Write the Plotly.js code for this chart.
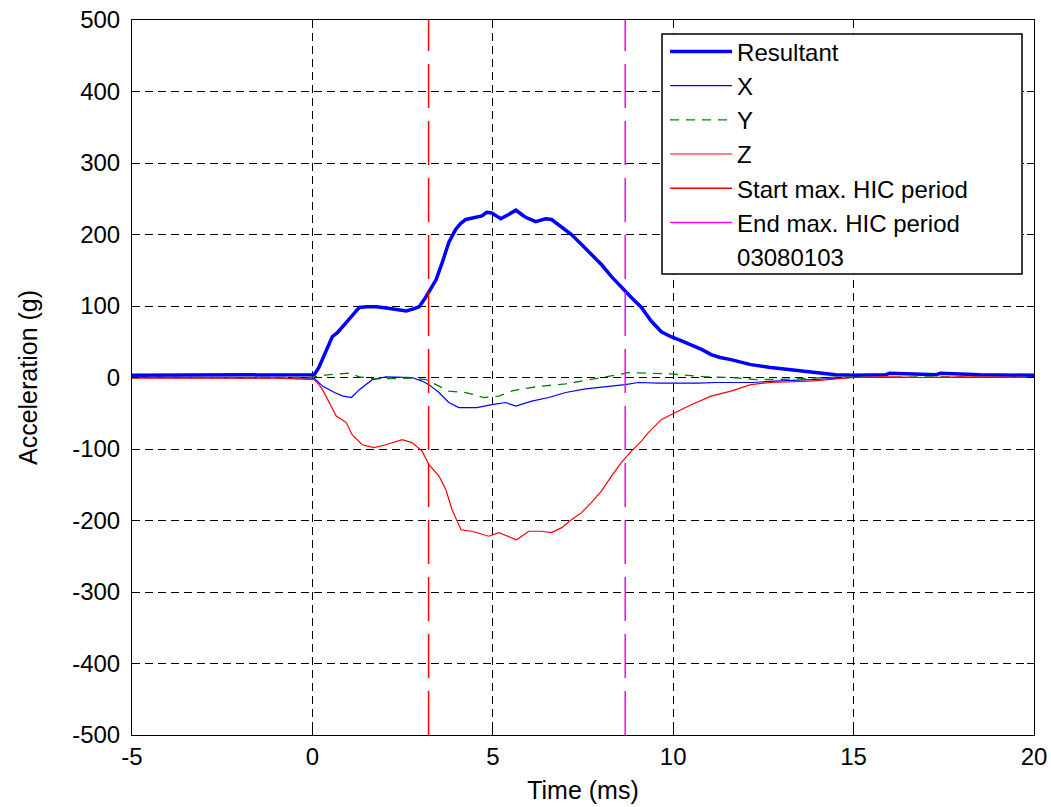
<!DOCTYPE html>
<html>
<head>
<meta charset="utf-8">
<script src="https://cdn.plot.ly/plotly-3.0.1.min.js"></script>
<style>html,body{margin:0;padding:0;background:#fff;}#chart{width:1051px;height:807px;}</style>
</head>
<body>
<div id="chart"></div>
<script>
// ---- data ----
const resT = [-5, -4, -3, -2, -1, -0.2, 0.05, 0.18, 0.28, 0.42, 0.55, 0.7, 0.83, 0.95, 1.08, 1.2, 1.3, 1.5, 1.77, 2.1, 2.4, 2.6, 2.8, 2.96, 3.15, 3.3, 3.43, 3.6, 3.78, 3.97, 4.1, 4.25, 4.53, 4.7, 4.83, 4.97, 5.1, 5.22, 5.44, 5.64, 5.8, 5.91, 6.19, 6.46, 6.63, 6.91, 7.18, 7.46, 7.73, 8.01, 8.29, 8.56, 8.84, 9.12, 9.39, 9.67, 9.94, 10.2, 10.5, 10.8, 11.05, 11.3, 11.6, 12.15, 12.7, 13.45, 14.0, 14.5, 15.0, 15.9, 16.0, 17.3, 17.4, 18.5, 20];
const resV = [3, 3, 3, 3, 3, 3, 4, 14, 25, 42, 57, 63, 71, 78, 85, 92, 98, 99, 99, 97, 95, 93, 96, 99, 113, 125, 137, 161, 189, 207, 215, 221, 224, 226, 231, 230, 226, 222, 228, 234, 228, 224, 218, 222, 221, 211, 200, 186, 172, 158, 141, 126, 112, 98, 79, 64, 57, 52, 46, 39, 32, 28, 25, 18, 14, 10, 7, 4, 3, 4, 6, 4, 6, 4, 3];

const xT = [-5, -0.1, 0.05, 0.28, 0.61, 0.85, 1.08, 1.3, 1.66, 2.04, 2.49, 2.76, 3.04, 3.23, 3.51, 3.78, 4.06, 4.56, 4.97, 5.36, 5.64, 6.08, 6.55, 7.02, 7.57, 8.01, 8.67, 9.03, 9.59, 10.7, 11.2, 12.2, 12.8, 13.8, 14.5, 15, 20];
const xV = [0, 0, -1, -12, -21, -26, -28, -17, -3, 1, 1, 0, -5, -10, -21, -35, -42, -42, -38, -35, -40, -33, -28, -21, -16, -14, -10, -7, -8, -8, -7, -7, -5, -3, -1, 0, 0];

const yT = [-5, -0.1, 0.2, 0.47, 1.02, 1.3, 1.77, 2.3, 2.76, 3.15, 3.3, 3.78, 4.25, 4.75, 5.17, 5.52, 5.8, 6.35, 7.02, 7.38, 7.93, 8.48, 8.76, 9.39, 9.94, 10.9, 11.6, 12.3, 13.45, 14.2, 15, 16, 17, 20];
const yV = [0, 0, 2, 4, 6, 1, -2, -1, -1, -3, -7, -19, -21, -28, -26, -19, -16, -12, -9, -6, -1, 4, 7, 6, 5, 1, 0, -3, -2, 0, 1, 0, 1, 0];

const zT = [-5, -1, 0.05, 0.18, 0.28, 0.38, 0.47, 0.56, 0.66, 0.8, 0.94, 1.1, 1.25, 1.38, 1.71, 2.04, 2.49, 2.76, 3.04, 3.23, 3.51, 3.7, 3.87, 4.12, 4.42, 4.89, 5.17, 5.66, 6.0, 6.35, 6.63, 6.91, 7.18, 7.46, 7.73, 8.01, 8.29, 8.56, 8.84, 9.12, 9.31, 9.67, 10.06, 10.5, 11.05, 11.6, 12.15, 12.7, 13.8, 14.4, 15, 16, 17, 18, 20];
const zV = [-1, -1, -3, -10, -17, -26, -35, -44, -54, -59, -63, -80, -88, -94, -98, -94, -87, -91, -103, -122, -138, -157, -185, -213, -215, -222, -217, -227, -215, -215, -217, -210, -199, -189, -175, -159, -138, -119, -103, -89, -77, -59, -49, -38, -26, -19, -10, -7, -5, -2, 0, 1, 0, 1, 0];

const hicStart = 3.22;   // ms
const hicEnd = 8.67;     // ms
const yLimits = [-500, 500];
const xLimits = [-5, 20];
const xTickVals = [-5, 0, 5, 10, 15, 20];
const xTickText = ['-5', '0', '5', '10', '15', '20'];
const yTickVals = [-500, -400, -300, -200, -100, 0, 100, 200, 300, 400, 500];
const yTickText = ['-500', '-400', '-300', '-200', '-100', '0', '100', '200', '300', '400', '500'];
const testId = '03080103';
const legendNames = ['Resultant', 'X', 'Y', 'Z', 'Start max. HIC period', 'End max. HIC period'];

// ---- traces ----
const FONT = 'Liberation Sans, Arial, sans-serif';
const traces = [
  {x: resT, y: resV, mode: 'lines', name: legendNames[0], legendgroup: 'g1',
   line: {color: '#0000ff', width: 3.5}},
  {x: xT, y: xV, mode: 'lines', name: legendNames[1], legendgroup: 'g2',
   line: {color: '#0000ff', width: 1.2}},
  {x: yT, y: yV, mode: 'lines', name: legendNames[2], legendgroup: 'g3',
   line: {color: '#008000', width: 1.3, dash: '9px,7px'}},
  {x: zT, y: zV, mode: 'lines', name: legendNames[3], legendgroup: 'g4',
   line: {color: '#ff0000', width: 1.2}},
  // HIC period markers (dashed in the plot)
  {x: [hicStart, hicStart], y: yLimits, mode: 'lines', showlegend: false,
   line: {color: '#ff0000', width: 1.5, dash: '44px,13px'}},
  {x: [hicEnd, hicEnd], y: yLimits, mode: 'lines', showlegend: false,
   line: {color: '#ff00ff', width: 1.5, dash: '44px,13px'}},
  // legend entries for the markers (solid sample, single point so nothing drawn in the plot)
  {x: [hicStart], y: [yLimits[0]], mode: 'lines', name: legendNames[4], legendgroup: 'g5',
   line: {color: '#ff0000', width: 1.5}},
  {x: [hicEnd], y: [yLimits[0]], mode: 'lines', name: legendNames[5], legendgroup: 'g6',
   line: {color: '#ff00ff', width: 1.5}},
  // text-only legend entry
  {x: [resT[0]], y: [resV[0]], mode: 'lines', name: testId, legendgroup: 'g7',
   line: {color: 'rgba(0,0,0,0)', width: 0}}
];

const axisCommon = {
  showline: true, linecolor: '#000', linewidth: 1, mirror: 'ticks',
  ticks: 'inside', ticklen: 7, tickcolor: '#000', tickwidth: 1,
  showgrid: true, gridcolor: '#000', gridwidth: 1, griddash: '8px,5px',
  zeroline: false, tickfont: {family: FONT, size: 24, color: '#000'}
};

const layout = {
  width: 1051, height: 807,
  margin: {l: 132, r: 17, t: 20, b: 72},
  paper_bgcolor: '#fff', plot_bgcolor: '#fff',
  font: {family: FONT, color: '#000'},
  showlegend: true,
  xaxis: Object.assign({}, axisCommon, {
    range: xLimits, tickmode: 'array', tickvals: xTickVals, ticktext: xTickText,
    title: {text: 'Time (ms)', font: {family: FONT, size: 25, color: '#000'}, standoff: 12}
  }),
  yaxis: Object.assign({}, axisCommon, {
    range: yLimits, tickmode: 'array', tickvals: yTickVals, ticktext: yTickText, ticklabelstandoff: 6,
    title: {text: 'Acceleration (g)', font: {family: FONT, size: 25, color: '#000'}, standoff: 27}
  }),
  // legend frame (drawn as a shape so its size matches the original box)
  shapes: [{
    type: 'rect', xref: 'paper', yref: 'paper', layer: 'above',
    x0: 0.5876, x1: 0.9867, y0: 0.6448, y1: 0.9804,
    fillcolor: '#fff', line: {color: '#000', width: 1.5}
  }],
  legend: {
    x: 0.591, y: 0.987, xanchor: 'left', yanchor: 'top',
    bgcolor: 'rgba(0,0,0,0)', borderwidth: 0,
    font: {family: FONT, size: 24, color: '#000'},
    tracegroupgap: 1, itemwidth: 62, traceorder: 'normal'
  }
};

Plotly.newPlot('chart', traces, layout, {displayModeBar: false, staticPlot: true});
</script>
</body>
</html>
